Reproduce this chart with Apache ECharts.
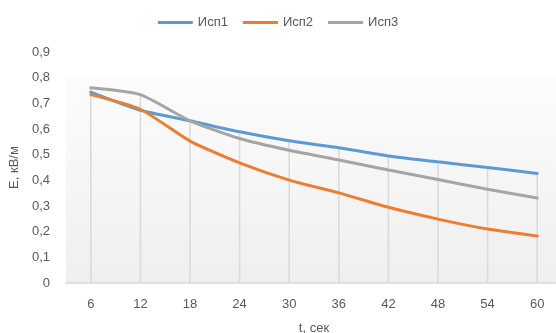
<!DOCTYPE html>
<html>
<head>
<meta charset="utf-8">
<script src="https://cdn.jsdelivr.net/npm/echarts@6/dist/echarts.min.js"></script>
<style>html,body{margin:0;padding:0;background:#fff}#c{width:556px;height:333px}</style>
</head>
<body>
<div id="c"></div>
<script>
var categories = ['6','12','18','24','30','36','42','48','54','60'];
var isp1 = [0.744, 0.673, 0.632, 0.589, 0.554, 0.527, 0.495, 0.472, 0.450, 0.427];
var isp2 = [0.734, 0.677, 0.553, 0.468, 0.401, 0.351, 0.295, 0.249, 0.210, 0.183];
var isp3 = [0.761, 0.734, 0.632, 0.563, 0.517, 0.479, 0.440, 0.403, 0.365, 0.331];
var yTicks = [0, 0.9, 0.1];
var seriesNames = ['Исп1', 'Исп2', 'Исп3'];

var dropTop = categories.map(function (c, i) { return Math.max(isp1[i], isp2[i], isp3[i]); });
var font = 'Liberation Sans';
var txt = '#595959';

var chart = echarts.init(document.getElementById('c'), null, {renderer: 'canvas'});
function lineSeries(name, data, color) {
  return {
    name: name, type: 'line', data: data, smooth: 0.2,
    showSymbol: false, symbol: 'none', z: 5,
    lineStyle: {color: color, width: 3, cap: 'round'},
    itemStyle: {color: color}
  };
}
chart.setOption({
  animation: false,
  textStyle: {fontFamily: font},
  legend: {
    data: seriesNames, top: 11, left: 'center',
    icon: 'rect', itemWidth: 35, itemHeight: 3, itemGap: 15,
    textStyle: {color: txt, fontSize: 13, fontFamily: font}
  },
  grid: {
    left: 66, top: 52, bottom: 50, width: 496,
    containLabel: false, outerBoundsMode: 'none',
    show: true, borderWidth: 0,
    backgroundColor: new echarts.graphic.LinearGradient(0, 0, 0, 1, [
      {offset: 0, color: '#ffffff'},
      {offset: 0.1, color: '#ffffff'},
      {offset: 0.11, color: '#fcfcfc'},
      {offset: 1, color: '#efefef'}
    ])
  },
  xAxis: {
    type: 'category', data: categories, boundaryGap: true,
    name: 't, сек', nameLocation: 'middle', nameGap: 39,
    nameTextStyle: {color: txt, fontSize: 13, fontFamily: font},
    axisLine: {show: true, lineStyle: {color: '#d9d9d9', width: 1.5}},
    axisTick: {show: false},
    axisLabel: {color: txt, fontSize: 13, margin: 15, fontFamily: font},
    splitLine: {show: false}
  },
  yAxis: {
    type: 'value', min: yTicks[0], max: yTicks[1], interval: yTicks[2],
    name: 'E, кВ/м', nameLocation: 'middle', nameGap: 41,
    nameTextStyle: {color: txt, fontSize: 13, fontFamily: font},
    axisLine: {show: false}, axisTick: {show: false},
    splitLine: {show: false},
    axisLabel: {
      color: txt, fontSize: 13, margin: 16, fontFamily: font,
      formatter: function (v) { return (Math.round(v * 10) / 10).toString().replace('.', ','); }
    }
  },
  series: [
    {
      name: 'drop', type: 'bar', data: dropTop, barWidth: 1.5, silent: true, z: 1,
      itemStyle: {color: '#d9d9d9'}
    },
    lineSeries(seriesNames[0], isp1, '#5B9BD5'),
    lineSeries(seriesNames[1], isp2, '#ED7D31'),
    lineSeries(seriesNames[2], isp3, '#A5A5A5')
  ]
});
</script>
</body>
</html>
